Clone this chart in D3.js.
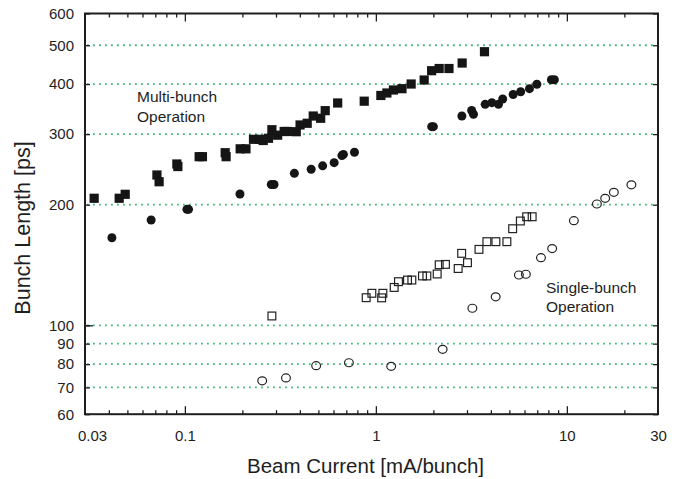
<!DOCTYPE html>
<html>
<head>
<meta charset="utf-8">
<script src="https://cdn.jsdelivr.net/npm/d3@7"></script>
<style>
  body { margin: 0; background: #fff; }
  svg { display: block; font-family: "Liberation Sans", Arial, Helvetica, sans-serif; }
</style>
</head>
<body>
<svg id="chart" width="680" height="479"></svg>
<script>
// Multi-bunch operation, filled squares: beam current [mA/bunch] and bunch length [ps]
const multiSquareCurrent = [0.0335, 0.0453, 0.0487, 0.0714, 0.0733, 0.0908, 0.0919, 0.1188, 0.1236, 0.1626,
  0.1644, 0.1948, 0.2089, 0.2287, 0.2459, 0.2571, 0.274, 0.2855, 0.306, 0.331,
  0.344, 0.383, 0.401, 0.437, 0.470, 0.514, 0.543, 0.631, 0.869, 1.062,
  1.142, 1.236, 1.370, 1.530, 1.790, 1.959, 2.145, 2.414, 2.830, 3.704];
const multiSquareLength = [207.5, 207.5, 212.3, 237.2, 228.2, 252.7, 249, 263.5, 263.5, 269.6,
  263.5, 275.7, 275.7, 291.2, 291.2, 289.2, 292.9, 307.7, 298.2, 304.6,
  304.6, 304.2, 316.2, 319.3, 332.9, 328.6, 343.3, 358.8, 362.5, 374.6,
  380, 386.6, 389.5, 400.1, 409.4, 431.9, 437.4, 437.4, 451.4, 481.7];

// Multi-bunch operation, filled circles
const multiCircleCurrent = [0.0415, 0.0666, 0.1025, 0.1045, 0.1943, 0.2835, 0.2930, 0.3744, 0.4584, 0.5265,
  0.6048, 0.664, 0.676, 0.7727, 1.96, 2.00, 2.820, 3.174, 3.244, 3.735,
  4.049, 4.385, 4.613, 5.234, 5.730, 6.371, 6.965, 8.30, 8.60];
const multiCircleLength = [165.4, 183.1, 194.7, 194.7, 212.6, 224.6, 224.6, 239.5, 245.1, 250,
  254.6, 265.2, 267.0, 270.3, 313.1, 313.1, 332.9, 343.6, 336.4, 356,
  359.4, 356, 367.1, 376.7, 382.8, 389.5, 399.6, 410, 410];

// Single-bunch operation, open squares
const singleSquareCurrent = [0.2855, 0.8896, 0.9529, 1.072, 1.088, 1.247, 1.313, 1.464, 1.543, 1.754,
  1.849, 2.094, 2.145, 2.314, 2.697, 2.813, 3.017, 3.466, 3.813, 4.250,
  4.852, 5.202, 5.708, 6.159, 6.580];
const singleSquareLength = [105.5, 117.2, 120.2, 117.1, 120.2, 124.3, 128.5, 129.7, 129.7, 132.8,
  132.8, 134.3, 141.6, 141.9, 138.6, 151.2, 143.3, 154.7, 161.7, 161.7,
  161.7, 174.2, 182.1, 186.6, 186.6];

// Single-bunch operation, open circles
const singleCircleCurrent = [0.254, 0.3383, 0.4868, 0.7225, 1.2025, 2.237, 3.201, 4.239, 5.607, 6.1,
  7.318, 8.375, 10.88, 14.36, 15.87, 17.62, 21.77];
const singleCircleLength = [72.7, 73.9, 79.3, 80.65, 79.0, 87.1, 110.3, 117.8, 133.5, 134.1,
  147.5, 155.4, 182.4, 200.8, 207.5, 214.7, 224.2];

// Axis ticks and labels
const xLabelValues = [0.03, 0.1, 1, 10, 30];
const xLabelTexts = ["0.03", "0.1", "1", "10", "30"];
const xMajorTicks = [0.1, 1, 10];
const xMinorTicks = [0.04, 0.05, 0.06, 0.07, 0.08, 0.09, 0.2, 0.3, 0.4, 0.5, 0.6, 0.7, 0.8, 0.9,
  2, 3, 4, 5, 6, 7, 8, 9, 20];
const yLabelValues = [60, 70, 80, 90, 100, 200, 300, 400, 500, 600];
const yMajorTicks = [100];
const yGridValues = [70, 80, 90, 100, 200, 300, 400, 500];

const xTitle = "Beam Current [mA/bunch]";
const yTitle = "Bunch Length [ps]";
const multiNote = ["Multi-bunch", "Operation"];
const singleNote = ["Single-bunch", "Operation"];

const svg = d3.select("#chart");
const plotLeft = 85, plotRight = 658, plotTop = 13.5, plotBottom = 414.2;
const ink = "#1e1e1e";

const x = d3.scaleLog().domain([0.03, 30]).range([plotLeft, plotRight]);
const y = d3.scaleLog().domain([60, 600]).range([plotBottom, plotTop]);

// dotted green gridlines
svg.append("g")
  .selectAll("line")
  .data(yGridValues)
  .join("line")
  .attr("x1", plotLeft + 2).attr("x2", plotRight - 2)
  .attr("y1", d => y(d)).attr("y2", d => y(d))
  .attr("stroke", "#3dbd7c")
  .attr("stroke-width", 1.8)
  .attr("stroke-dasharray", "1.8,4.2");

function styleAxis(g) {
  g.select(".domain").remove();
  g.selectAll(".tick line").attr("stroke", ink).attr("stroke-width", 1.3);
  g.selectAll(".tick text").attr("fill", ink);
}

// bottom axis: minor and major ticks pointing inward, then labels
svg.append("g").attr("transform", `translate(0,${plotBottom})`)
  .call(d3.axisBottom(x).tickValues(xMinorTicks).tickSizeInner(-4).tickSizeOuter(0).tickFormat(""))
  .call(styleAxis);
svg.append("g").attr("transform", `translate(0,${plotBottom})`)
  .call(d3.axisBottom(x).tickValues(xMajorTicks).tickSizeInner(-8).tickSizeOuter(0).tickFormat(""))
  .call(styleAxis);
const xLab = svg.append("g").attr("transform", `translate(0,${plotBottom})`)
  .call(d3.axisBottom(x).tickValues(xLabelValues).tickSize(0).tickPadding(16)
    .tickFormat((d, i) => xLabelTexts[i]))
  .call(styleAxis);
xLab.selectAll(".tick text").attr("font-size", 15).attr("font-family", null)
  .attr("dx", (d, i) => i === 0 ? 7 : 0);
xLab.selectAll(".tick line").remove();

// top axis ticks
svg.append("g").attr("transform", `translate(0,${plotTop})`)
  .call(d3.axisTop(x).tickValues(xMinorTicks).tickSizeInner(-4).tickSizeOuter(0).tickFormat(""))
  .call(styleAxis);
svg.append("g").attr("transform", `translate(0,${plotTop})`)
  .call(d3.axisTop(x).tickValues(xMajorTicks).tickSizeInner(-8).tickSizeOuter(0).tickFormat(""))
  .call(styleAxis);

// left axis with labels, right axis ticks only
const yAx = svg.append("g").attr("transform", `translate(${plotLeft},0)`)
  .call(d3.axisLeft(y).tickValues(yLabelValues).tickSizeInner(-5).tickSizeOuter(0).tickPadding(11)
    .tickFormat(d3.format("d")))
  .call(styleAxis);
yAx.selectAll(".tick text").attr("font-size", 15).attr("font-family", null);
svg.append("g").attr("transform", `translate(${plotLeft},0)`)
  .call(d3.axisLeft(y).tickValues(yMajorTicks).tickSizeInner(-8).tickSizeOuter(0).tickFormat(""))
  .call(styleAxis);
svg.append("g").attr("transform", `translate(${plotRight},0)`)
  .call(d3.axisRight(y).tickValues(yLabelValues).tickSizeInner(-5).tickSizeOuter(0).tickFormat(""))
  .call(styleAxis);

// frame
svg.append("rect")
  .attr("x", plotLeft).attr("y", plotTop)
  .attr("width", plotRight - plotLeft).attr("height", plotBottom - plotTop)
  .attr("fill", "none").attr("stroke", ink).attr("stroke-width", 2);

// axis titles
svg.append("text")
  .attr("x", (plotLeft + plotRight) / 2 - 6).attr("y", 473)
  .attr("text-anchor", "middle").attr("font-size", 20.5).attr("fill", ink)
  .text(xTitle);
svg.append("text")
  .attr("transform", "translate(29.5,228) rotate(-90)")
  .attr("text-anchor", "middle").attr("font-size", 21.5).attr("fill", ink)
  .text(yTitle);

// annotations
function note(lines, x0, y0) {
  svg.append("g").selectAll("text").data(lines).join("text")
    .attr("x", x0).attr("y", (d, i) => y0 + i * 19.3)
    .attr("font-size", 15.5).attr("fill", ink)
    .text(d => d);
}
note(multiNote, 137, 102.3);
note(singleNote, 546, 292.5);

// markers
const zip = (a, b) => a.map((v, i) => [v, b[i]]);
const sq = 9.2, osq = 7.8;

svg.append("g").selectAll("rect")
  .data(zip(multiSquareCurrent, multiSquareLength))
  .join("rect")
  .attr("x", d => x(d[0]) - sq / 2).attr("y", d => y(d[1]) - sq / 2)
  .attr("width", sq).attr("height", sq)
  .attr("fill", "#151515");

svg.append("g").selectAll("circle")
  .data(zip(multiCircleCurrent, multiCircleLength))
  .join("circle")
  .attr("cx", d => x(d[0])).attr("cy", d => y(d[1]))
  .attr("r", 4.5)
  .attr("fill", "#151515");

svg.append("g").selectAll("rect")
  .data(zip(singleSquareCurrent, singleSquareLength))
  .join("rect")
  .attr("x", d => x(d[0]) - osq / 2).attr("y", d => y(d[1]) - osq / 2)
  .attr("width", osq).attr("height", osq)
  .attr("fill", "none").attr("stroke", "#222").attr("stroke-width", 1.2);

svg.append("g").selectAll("ellipse")
  .data(zip(singleCircleCurrent, singleCircleLength))
  .join("ellipse")
  .attr("cx", d => x(d[0])).attr("cy", d => y(d[1]))
  .attr("rx", 4.4).attr("ry", 4)
  .attr("fill", "none").attr("stroke", "#222").attr("stroke-width", 1.2);
</script>
</body>
</html>
